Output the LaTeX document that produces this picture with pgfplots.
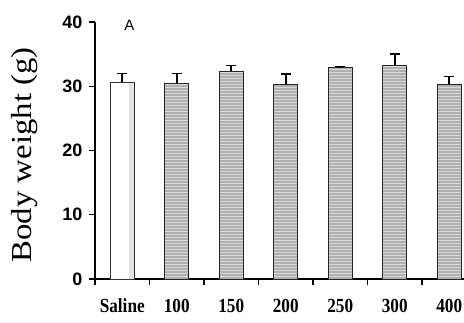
\documentclass[border=0pt]{standalone}
\usepackage{fontspec}
\setmainfont{Liberation Serif}
\setsansfont{Liberation Sans}
\usepackage{graphicx}
\usepackage{pgfplots}
\pgfplotsset{compat=1.18}
\usepackage{pgfplotstable}
\usetikzlibrary{patterns}
\pgfplotstableread{
x y err
0 30.6 1.4
}\saline
\pgfplotstableread{
x y err
1 30.4 1.6
2 32.3 0.9
3 30.3 1.6
4 32.9 0.15
5 33.3 1.7
6 30.3 1.2
}\doses
\begin{document}
\begin{tikzpicture}
\begin{axis}[
  scale only axis,
  width=369pt, height=257pt,
  xmin=-0.5, xmax=6.27,
  ymin=0, ymax=40,
  axis x line*=bottom, axis y line*=left,
  axis line style={line width=1.4pt, -},
  clip=false,
  xtick={-0.5,0.5,1.5,2.5,3.5,4.5,5.5},
  xticklabels={},
  tick style={line width=1.4pt, black},
  extra x ticks={0,1,2,3,4,5,6},
  extra x tick labels={Saline,100,150,200,250,300,400},
  extra x tick style={major tick length=0pt, xticklabel style={font=\fontsize{20}{20}\selectfont\bfseries, anchor=base, yshift=-33pt, xscale=0.86}},
  ytick={0,10,20,30,40},
  tick align=outside,
  major tick length=6pt,
  yticklabel style={font=\fontsize{18}{18}\selectfont\sffamily\bfseries, xshift=-3pt},
  /pgf/number format/assume math mode=true,
  ylabel={\scalebox{1.13}[1]{Body weight (g)}},
  ylabel style={font=\fontsize{29}{29}\selectfont, at={(axis description cs:-0.19,0.483)}, rotate=0, anchor=center},
  ybar, bar width=24pt,
]
\addplot[ybar, bar shift=0pt, fill=white, draw=black!80, line width=0.8pt,
  error bars/.cd, y dir=plus, y explicit,
  error bar style={line width=1.6pt, black},
  error mark options={rotate=90, mark size=5pt, line width=1.6pt, black}]
  table[x=x, y=y, y error=err] {\saline};
\addplot[ybar, bar shift=9.5pt, bar width=5pt, fill=gray!22, draw=none] table[x=x, y expr=\thisrow{y}-0.15] {\saline};
\addplot[ybar, bar shift=0pt, fill=gray!62, draw=black!85, line width=0.9pt,
  postaction={pattern=horizontal lines, pattern color=gray!30},
  error bars/.cd, y dir=plus, y explicit,
  error bar style={line width=1.6pt, black},
  error mark options={rotate=90, mark size=5pt, line width=1.6pt, black}]
  table[x=x, y=y, y error=err] {\doses};
\node[font=\fontsize{15}{15}\selectfont\sffamily] at (axis cs:0.13,39.5) {A};
\end{axis}
\pgfresetboundingbox
\path[use as bounding box] (-95pt,-43pt) rectangle (369pt,279pt);
\end{tikzpicture}
\end{document}
